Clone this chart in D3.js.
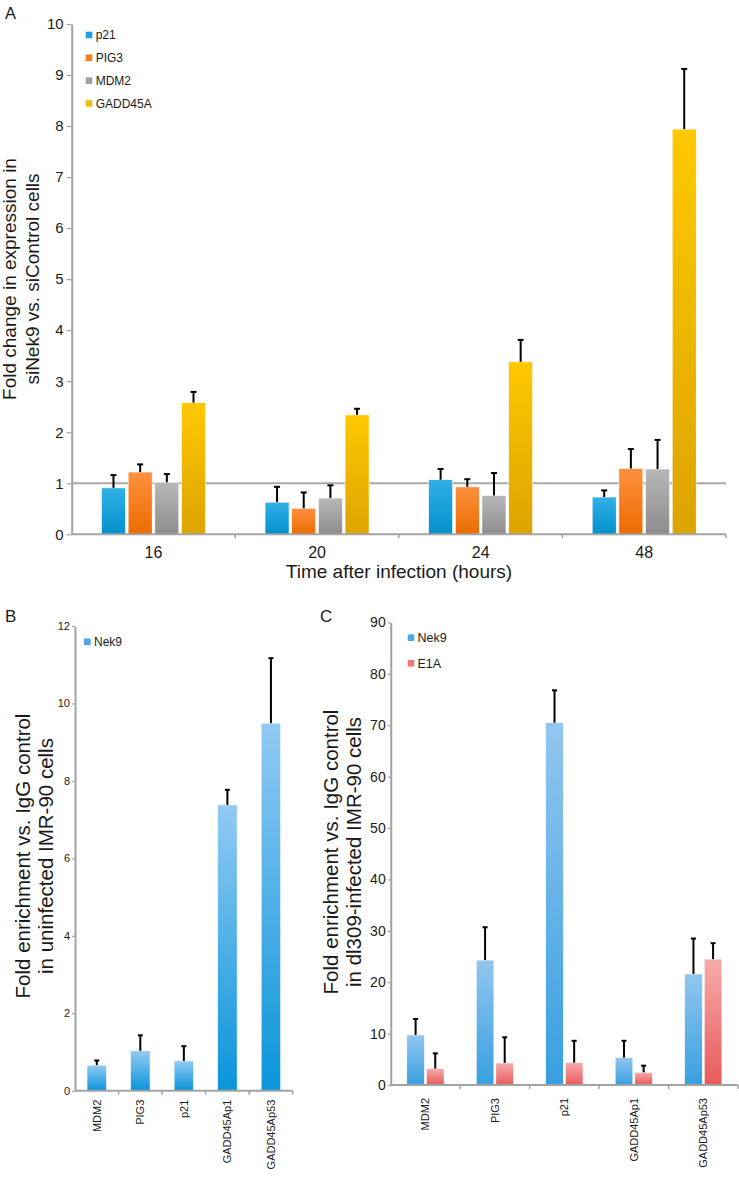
<!DOCTYPE html>
<html>
<head>
<meta charset="utf-8">
<script src="https://cdnjs.cloudflare.com/ajax/libs/d3/7.8.5/d3.min.js"></script>
<style>
  html, body { margin: 0; padding: 0; background: #fff; }
  svg { display: block; font-family: "Liberation Sans", Arial, sans-serif; }
</style>
</head>
<body>
<svg id="chart" width="739" height="1177"></svg>
<script>
// ---------- Panel A data ----------
const aCategories = ["16", "20", "24", "48"];
const aSeries = ["p21", "PIG3", "MDM2", "GADD45A"];
const aP21 = [0.91, 0.63, 1.07, 0.73];
const aP21Err = [0.25, 0.30, 0.21, 0.13];
const aPIG3 = [1.22, 0.51, 0.93, 1.29];
const aPIG3Err = [0.15, 0.31, 0.15, 0.38];
const aMDM2 = [1.02, 0.71, 0.76, 1.28];
const aMDM2Err = [0.16, 0.25, 0.44, 0.57];
const aGADD45A = [2.58, 2.34, 3.38, 7.94];
const aGADD45AErr = [0.21, 0.12, 0.43, 1.18];
const aYTicks = [0, 1, 2, 3, 4, 5, 6, 7, 8, 9, 10];

// ---------- Panel B data ----------
const bCategories = ["MDM2", "PIG3", "p21", "GADD45Ap1", "GADD45Ap53"];
const bNek9 = [0.66, 1.03, 0.77, 7.38, 9.49];
const bNek9Err = [0.12, 0.40, 0.38, 0.39, 1.68];
const bYTicks = [0, 2, 4, 6, 8, 10, 12];

// ---------- Panel C data ----------
const cCategories = ["MDM2", "PIG3", "p21", "GADD45Ap1", "GADD45Ap53"];
const cSeries = ["Nek9", "E1A"];
const cNek9 = [9.73, 24.3, 70.5, 5.32, 21.6];
const cNek9Err = [3.11, 6.4, 6.3, 3.28, 6.9];
const cE1A = [3.18, 4.28, 4.34, 2.46, 24.5];
const cE1AErr = [2.98, 5.0, 4.26, 1.3, 3.1];
const cYTicks = [0, 10, 20, 30, 40, 50, 60, 70, 80, 90];

const svg = d3.select("#chart");
const defs = svg.append("defs");
const AXIS = "#a3a3a3";
const TXT = "#1a1a1a";

function grad(id, top, bottom) {
  const g = defs.append("linearGradient").attr("id", id)
    .attr("x1", 0).attr("y1", 0).attr("x2", 0).attr("y2", 1);
  g.append("stop").attr("offset", "0%").attr("stop-color", top);
  g.append("stop").attr("offset", "100%").attr("stop-color", bottom);
  return "url(#" + id + ")";
}
const fills = {
  p21: grad("gP21", "#33b0e6", "#0090cc"),
  PIG3: grad("gPIG3", "#ff9040", "#ec6c00"),
  MDM2: grad("gMDM2", "#b8b8b8", "#8c8c8c"),
  GADD45A: grad("gGADD", "#ffc800", "#dca400"),
  Nek9B: grad("gNek9B", "#92caf3", "#0a95da"),
  Nek9C: grad("gNek9C", "#92c6ef", "#389fe0"),
  E1A: grad("gE1A", "#f6abab", "#e85a5a")
};
const legendColors = { p21: "#1aa0dc", PIG3: "#f98020", MDM2: "#a0a0a0", GADD45A: "#f2bc10", Nek9: "#4aa6e4", E1A: "#ee7a7a" };

function styleAxis(g, fontSize) {
  g.select(".domain").attr("stroke", AXIS).attr("stroke-width", 2);
  g.selectAll(".tick line").attr("stroke", AXIS).attr("stroke-width", 1.2);
  g.selectAll(".tick text").attr("fill", TXT).attr("font-size", fontSize)
    .attr("font-family", "Liberation Sans, Arial, sans-serif");
}

function errorBars(g, data, cx, yScale, capW) {
  const eb = g.append("g");
  data.forEach(d => {
    const x = cx(d);
    eb.append("line").attr("x1", x).attr("x2", x)
      .attr("y1", yScale(d.v)).attr("y2", yScale(d.v + d.e))
      .attr("stroke", "#000").attr("stroke-width", 2);
    eb.append("line").attr("x1", x - capW / 2).attr("x2", x + capW / 2)
      .attr("y1", yScale(d.v + d.e)).attr("y2", yScale(d.v + d.e))
      .attr("stroke", "#000").attr("stroke-width", 2);
  });
}

function boundaryTicks(g, xScale, n, y0, len) {
  const r = xScale.range();
  const step = (r[1] - r[0]) / n;
  for (let i = 1; i <= n; i++) {
    const x = r[0] + i * step;
    g.append("line").attr("x1", x).attr("x2", x).attr("y1", y0).attr("y2", y0 + len)
      .attr("stroke", AXIS).attr("stroke-width", 1.5);
  }
}

// ====================== Panel A ======================
(function () {
  const g = svg.append("g");
  const x0 = d3.scaleBand().domain(aCategories).range([71.7, 726]).paddingInner(0.364).paddingOuter(0.182);
  const x1 = d3.scaleBand().domain(aSeries).range([0, x0.bandwidth()]).paddingInner(0.1);
  const y = d3.scaleLinear().domain([0, 10]).range([534.3, 24]);

  const seriesVals = { p21: [aP21, aP21Err], PIG3: [aPIG3, aPIG3Err], MDM2: [aMDM2, aMDM2Err], GADD45A: [aGADD45A, aGADD45AErr] };
  const data = [];
  aCategories.forEach((c, i) => aSeries.forEach(s => data.push({ c, s, v: seriesVals[s][0][i], e: seriesVals[s][1][i] })));

  // axes
  const ya = g.append("g").attr("transform", "translate(71.7,0)")
    .call(d3.axisLeft(y).tickValues(aYTicks).tickSize(5).tickSizeOuter(0).tickPadding(3));
  styleAxis(ya, 15);

  // reference line at 1
  g.append("line").attr("x1", 71.7).attr("x2", 726).attr("y1", y(1)).attr("y2", y(1))
    .attr("stroke", "#aaaaaa").attr("stroke-width", 2);

  g.selectAll("rect.bar").data(data).join("rect")
    .attr("x", d => x0(d.c) + x1(d.s)).attr("width", x1.bandwidth())
    .attr("y", d => y(d.v)).attr("height", d => y(0) - y(d.v))
    .attr("fill", d => fills[d.s]).attr("stroke", "#ffffff").attr("stroke-width", 0.6);

  errorBars(g, data, d => x0(d.c) + x1(d.s) + x1.bandwidth() / 2, y, 6);

  const xa = g.append("g").attr("transform", "translate(0," + y(0) + ")")
    .call(d3.axisBottom(x0).tickSize(0).tickSizeOuter(0).tickPadding(12));
  styleAxis(xa, 16);
  xa.select(".domain").attr("d", "M71.7,0H726");
  boundaryTicks(g, x0, 4, y(0), 4);

  g.append("text").attr("x", 399).attr("y", 578).attr("text-anchor", "middle")
    .attr("font-size", 19).attr("fill", TXT).text("Time after infection (hours)");

  const yl = g.append("text").attr("transform", "translate(0,279) rotate(-90)")
    .attr("text-anchor", "middle").attr("font-size", 19).attr("fill", TXT);
  yl.append("tspan").attr("x", 0).attr("y", 16).text("Fold change in expression in");
  yl.append("tspan").attr("x", 0).attr("y", 39).text("siNek9 vs. siControl cells");

  // legend
  aSeries.forEach((s, i) => {
    const ly = 35 + i * 22.8;
    g.append("rect").attr("x", 85.7).attr("y", ly - 3.3).attr("width", 6.6).attr("height", 6.6).attr("fill", legendColors[s]);
    g.append("text").attr("x", 95.7).attr("y", ly + 4.3).attr("font-size", 12).attr("fill", TXT).text(s);
  });

  g.append("text").attr("x", 5).attr("y", 18.5).attr("font-size", 16.5).attr("fill", TXT).text("A");
})();

// ====================== Panel B ======================
(function () {
  const g = svg.append("g");
  const x = d3.scaleBand().domain(bCategories).range([75, 292.7]).paddingInner(0.552).paddingOuter(0.276);
  const y = d3.scaleLinear().domain([0, 12]).range([1090.7, 626]);
  const data = bCategories.map((c, i) => ({ c, v: bNek9[i], e: bNek9Err[i] }));

  const ya = g.append("g").attr("transform", "translate(75,0)")
    .call(d3.axisLeft(y).tickValues(bYTicks).tickSize(3).tickSizeOuter(0).tickPadding(2));
  styleAxis(ya, 11);

  g.selectAll("rect.bar").data(data).join("rect")
    .attr("x", d => x(d.c)).attr("width", x.bandwidth())
    .attr("y", d => y(d.v)).attr("height", d => y(0) - y(d.v))
    .attr("fill", fills.Nek9B).attr("stroke", "#ffffff").attr("stroke-width", 0.6);
  errorBars(g, data, d => x(d.c) + x.bandwidth() / 2, y, 5);

  const xa = g.append("g").attr("transform", "translate(0," + y(0) + ")")
    .call(d3.axisBottom(x).tickSize(0).tickSizeOuter(0));
  styleAxis(xa, 11);
  xa.select(".domain").attr("d", "M75,0H292.7");
  xa.selectAll(".tick text").attr("transform", "rotate(-90)")
    .attr("text-anchor", "end").attr("x", -9).attr("y", 0).attr("dy", "0.35em");
  boundaryTicks(g, x, 5, y(0), 4);

  const yl = g.append("text").attr("transform", "translate(0,856) rotate(-90)")
    .attr("text-anchor", "middle").attr("font-size", 20.5).attr("fill", TXT);
  yl.append("tspan").attr("x", 0).attr("y", 30).text("Fold enrichment vs. IgG control");
  yl.append("tspan").attr("x", 0).attr("y", 53).text("in uninfected IMR-90 cells");

  g.append("rect").attr("x", 84).attr("y", 638.5).attr("width", 6.6).attr("height", 6.6).attr("fill", legendColors.Nek9);
  g.append("text").attr("x", 94).attr("y", 646.3).attr("font-size", 12).attr("fill", TXT).text("Nek9");

  g.append("text").attr("x", 5).attr("y", 622).attr("font-size", 17).attr("fill", TXT).text("B");
})();

// ====================== Panel C ======================
(function () {
  const g = svg.append("g");
  const x0 = d3.scaleBand().domain(cCategories).range([390.7, 738]).paddingInner(0.463).paddingOuter(0.2315);
  const x1 = d3.scaleBand().domain(cSeries).range([0, x0.bandwidth()]).paddingInner(0.1);
  const y = d3.scaleLinear().domain([0, 90]).range([1085, 622.5]);
  const vals = { Nek9: [cNek9, cNek9Err], E1A: [cE1A, cE1AErr] };
  const data = [];
  cCategories.forEach((c, i) => cSeries.forEach(s => data.push({ c, s, v: vals[s][0][i], e: vals[s][1][i] })));

  const ya = g.append("g").attr("transform", "translate(390.7,0)")
    .call(d3.axisLeft(y).tickValues(cYTicks).tickSize(3).tickSizeOuter(0).tickPadding(2));
  styleAxis(ya, 14);

  g.selectAll("rect.bar").data(data).join("rect")
    .attr("x", d => x0(d.c) + x1(d.s)).attr("width", x1.bandwidth())
    .attr("y", d => y(d.v)).attr("height", d => y(0) - y(d.v))
    .attr("fill", d => d.s === "Nek9" ? fills.Nek9C : fills.E1A)
    .attr("stroke", "#ffffff").attr("stroke-width", 0.6);
  errorBars(g, data, d => x0(d.c) + x1(d.s) + x1.bandwidth() / 2, y, 5);

  const xa = g.append("g").attr("transform", "translate(0," + y(0) + ")")
    .call(d3.axisBottom(x0).tickSize(0).tickSizeOuter(0));
  styleAxis(xa, 11);
  xa.select(".domain").attr("d", "M390.7,0H738");
  xa.selectAll(".tick text").attr("transform", "rotate(-90)")
    .attr("text-anchor", "end").attr("x", -13).attr("y", 0).attr("dy", "0.35em");
  boundaryTicks(g, x0, 5, y(0), 4);

  const yl = g.append("text").attr("transform", "translate(0,852) rotate(-90)")
    .attr("text-anchor", "middle").attr("font-size", 20.5).attr("fill", TXT);
  yl.append("tspan").attr("x", 0).attr("y", 338).text("Fold enrichment vs. IgG control");
  yl.append("tspan").attr("x", 0).attr("y", 361).text("in dl309-infected IMR-90 cells");

  cSeries.forEach((s, i) => {
    const ly = 637.7 + i * 25.6;
    g.append("rect").attr("x", 407.7).attr("y", ly - 3.3).attr("width", 6.6).attr("height", 6.6).attr("fill", legendColors[s]);
    g.append("text").attr("x", 417.5).attr("y", ly + 4.5).attr("font-size", 12.5).attr("fill", TXT).text(s);
  });

  g.append("text").attr("x", 320).attr("y", 622).attr("font-size", 17).attr("fill", TXT).text("C");
})();
</script>
</body>
</html>
